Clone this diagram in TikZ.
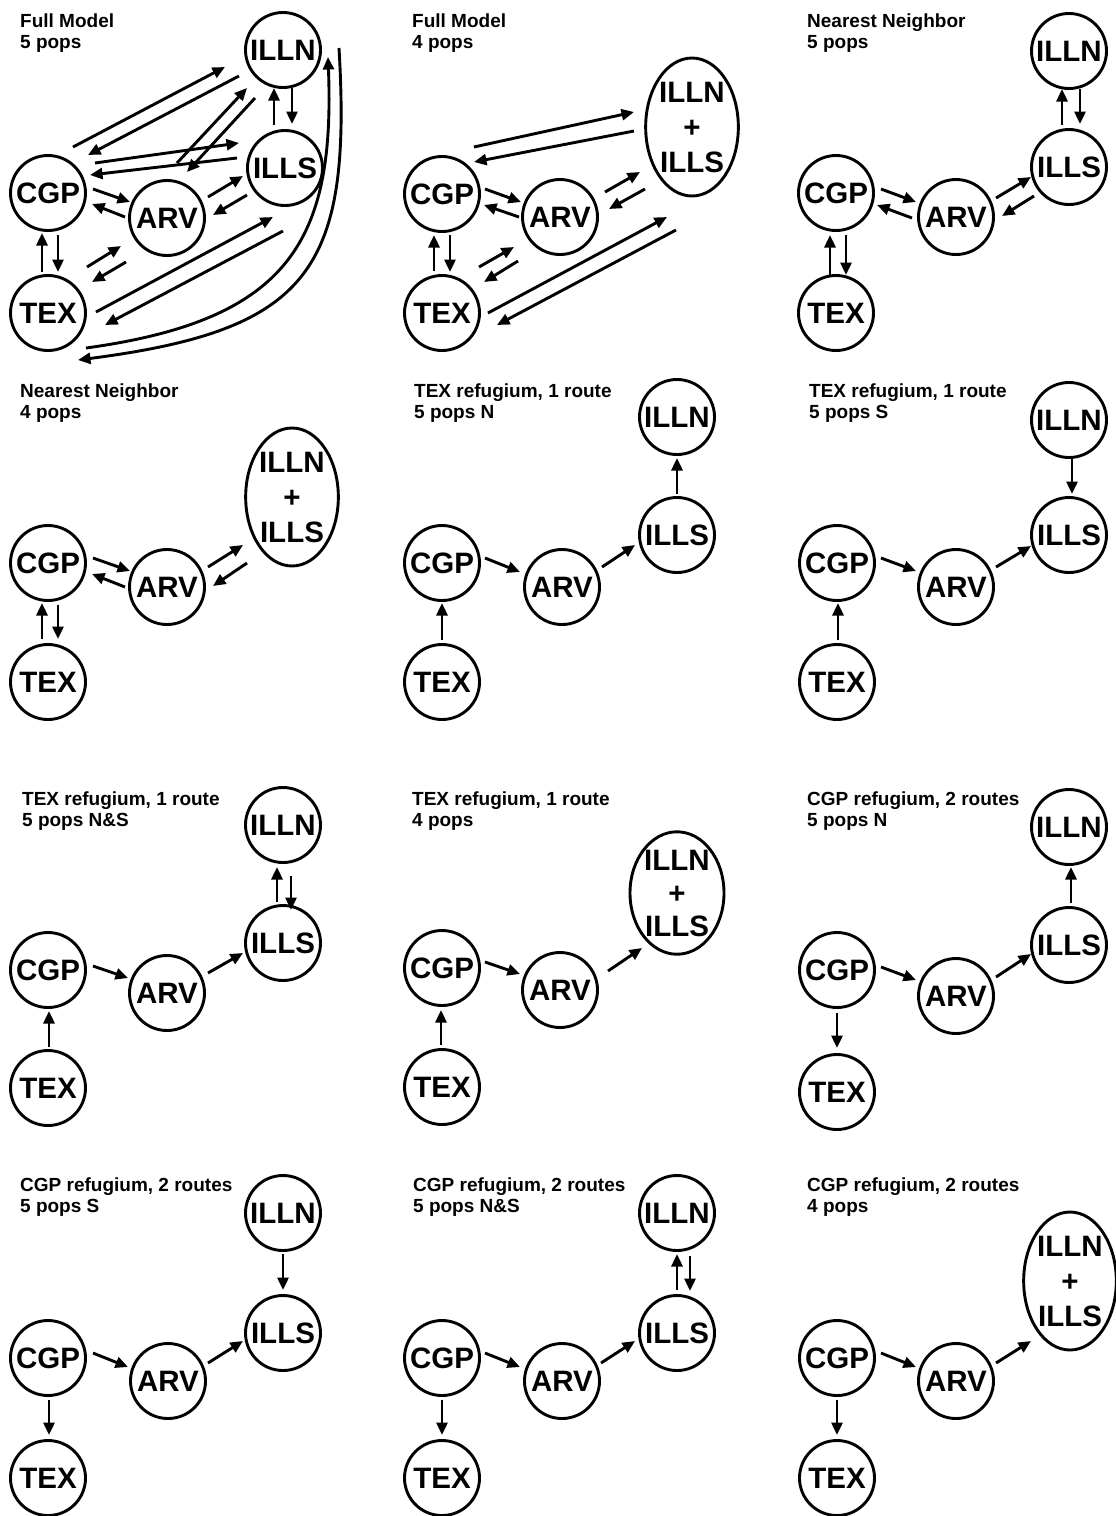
\documentclass[tikz,border=0pt]{standalone}
\usepackage{fontspec}
\setmainfont{Liberation Sans}
\usetikzlibrary{arrows.meta,calc,shapes.geometric}
\newcommand\cn[4]{\draw[arr] ($(#1)+(#2)$) -- ($(#3)+(#4)$);}
\begin{document}
\begin{tikzpicture}[x=1pt,y=-1pt,
  pop/.style={circle,draw,line width=2.9pt,minimum size=75pt,inner sep=0pt,font=\fontsize{29.5}{35}\selectfont\bfseries},
  ell/.style={ellipse,draw,line width=2.9pt,minimum width=92pt,minimum height=138pt,inner sep=0pt,align=center,font=\fontsize{29.5}{35}\selectfont\bfseries},
  ellsmall/.style={ell,minimum width=94pt,minimum height=118pt,font=\fontsize{29.5}{33}\selectfont\bfseries},
  ttl/.style={anchor=north west,inner sep=0pt,align=left,font=\fontsize{19}{21}\selectfont\bfseries},
  arr/.style={line width=2.9pt,-{Triangle[length=12.5pt,width=11pt]}}]
\useasboundingbox (0,0) rectangle (1116,1516);

% ---------- Panel 1 ----------
\node[ttl] (aT) at (20,14) {Full Model\\5 pops};
\node[pop] (aILLN) at (283,50) {ILLN};
\node[pop] (aILLS) at (285,168) {ILLS};
\node[pop] (aCGP) at (48,193) {CGP};
\node[pop] (aARV) at (167,218) {ARV};
\node[pop] (aTEX) at (48,313) {TEX};
\cn{aCGP}{25,-46}{aILLN}{-58,17}
\cn{aILLN}{-44,26}{aCGP}{40,-38}
\cn{aCGP}{47,-30}{aILLS}{-46,-25}
\cn{aILLS}{-48,-10}{aCGP}{42,-18}
\cn{aARV}{10,-55}{aILLN}{-36,38}
\cn{aILLN}{-28,48}{aARV}{20,-46}
\cn{aILLS}{-11,-43}{aILLN}{-9,38}
\cn{aILLN}{9,38}{aILLS}{7,-44}
\cn{aCGP}{45,-4}{aARV}{-37,-16}
\cn{aARV}{-42,-1}{aCGP}{44,11}
\cn{aARV}{41,-21}{aILLS}{-42,8}
\cn{aILLS}{-38,27}{aARV}{46,-3}
\cn{aTEX}{-6,-41}{aCGP}{-6,40}
\cn{aCGP}{10,42}{aTEX}{10,-41}
\cn{aTEX}{39,-46}{aARV}{-46,28}
\cn{aARV}{-41,44}{aTEX}{44,-31}
\cn{aTEX}{48,-1}{aILLS}{-12,49}
\cn{aILLS}{-2,63}{aTEX}{57,12}
\draw[arr] ($(aTEX)+(38,35)$) .. controls ($(aTEX)+(242,7)$) and ($(aILLN)+(52,190)$) .. ($(aILLN)+(45,7)$);
\draw[arr] ($(aILLN)+(56,-2)$) .. controls ($(aILLN)+(69,220)$) and ($(aTEX)+(262,17)$) .. ($(aTEX)+(30,47)$);

% ---------- Panel 2 ----------
\node[ttl] (bT) at (412,14) {Full Model\\4 pops};
\node[ell] (bELL) at (692,127) {ILLN\\+\\ILLS};
\node[pop] (bCGP) at (442,194) {CGP};
\node[pop] (bARV) at (560,217) {ARV};
\node[pop] (bTEX) at (442,313) {TEX};
\cn{bCGP}{32,-47}{bELL}{-58,-15}
\cn{bELL}{-58,4}{bCGP}{32,-32}
\cn{bCGP}{43,-5}{bARV}{-39,-15}
\cn{bARV}{-41,0}{bCGP}{42,11}
\cn{bARV}{45,-25}{bELL}{-52,45}
\cn{bELL}{-47,62}{bARV}{49,-8}
\cn{bTEX}{-8,-42}{bCGP}{-8,41}
\cn{bCGP}{8,41}{bTEX}{8,-41}
\cn{bTEX}{37,-46}{bARV}{-46,30}
\cn{bARV}{-42,44}{bTEX}{42,-31}
\cn{bTEX}{46,0}{bELL}{-25,90}
\cn{bELL}{-16,103}{bTEX}{55,12}

% ---------- Panel 3 ----------
\node[ttl] (cT) at (807,14) {Nearest Neighbor\\5 pops};
\node[pop] (cILLN) at (1069,51) {ILLN};
\node[pop] (cILLS) at (1069,167) {ILLS};
\node[pop] (cCGP) at (836,193) {CGP};
\node[pop] (cARV) at (956,217) {ARV};
\node[pop] (cTEX) at (836,313) {TEX};
\cn{cILLS}{-7,-42}{cILLN}{-7,38}
\cn{cILLN}{11,38}{cILLS}{11,-43}
\cn{cCGP}{45,-4}{cARV}{-40,-15}
\cn{cARV}{-44,1}{cCGP}{41,12}
\cn{cARV}{40,-19}{cILLS}{-38,10}
\cn{cILLS}{-35,29}{cARV}{46,-1}
\cn{cTEX}{-6,-38}{cCGP}{-6,42}
\cn{cCGP}{10,42}{cTEX}{10,-38}

% ---------- Panel 4 ----------
\node[ttl] (dT) at (20,384) {Nearest Neighbor\\4 pops};
\node[ell] (dELL) at (292,497) {ILLN\\+\\ILLS};
\node[pop] (dCGP) at (48,563) {CGP};
\node[pop] (dARV) at (167,587) {ARV};
\node[pop] (dTEX) at (48,682) {TEX};
\cn{dCGP}{45,-5}{dARV}{-37,-16}
\cn{dARV}{-42,0}{dCGP}{44,11}
\cn{dARV}{41,-20}{dELL}{-49,48}
\cn{dELL}{-45,66}{dARV}{46,-1}
\cn{dTEX}{-6,-43}{dCGP}{-6,40}
\cn{dCGP}{10,42}{dTEX}{10,-43}

% ---------- Panel 5 ----------
\node[ttl] (eT) at (414,384) {TEX refugium, 1 route\\5 pops N};
\node[pop] (eILLN) at (677,417) {ILLN};
\node[pop] (eILLS) at (677,535) {ILLS};
\node[pop] (eCGP) at (442,563) {CGP};
\node[pop] (eARV) at (562,587) {ARV};
\node[pop] (eTEX) at (442,682) {TEX};
\cn{eTEX}{0,-42}{eCGP}{0,40}
\cn{eCGP}{43,-5}{eARV}{-42,-15}
\cn{eARV}{40,-20}{eILLS}{-42,10}
\cn{eILLS}{0,-41}{eILLN}{0,41}

% ---------- Panel 6 ----------
\node[ttl] (fT) at (809,384) {TEX refugium, 1 route\\5 pops S};
\node[pop] (fILLN) at (1069,420) {ILLN};
\node[pop] (fILLS) at (1069,535) {ILLS};
\node[pop] (fCGP) at (837,563) {CGP};
\node[pop] (fARV) at (956,587) {ARV};
\node[pop] (fTEX) at (837,682) {TEX};
\cn{fILLN}{3,39}{fILLS}{3,-41}
\cn{fCGP}{44,-5}{fARV}{-40,-16}
\cn{fARV}{40,-20}{fILLS}{-38,11}
\cn{fTEX}{1,-42}{fCGP}{1,40}

% ---------- Panel 7 ----------
\node[ttl] (gT) at (22,792) {TEX refugium, 1 route\\5 pops N\&S};
\node[pop] (gILLN) at (283,825) {ILLN};
\node[pop] (gILLS) at (283,943) {ILLS};
\node[pop] (gCGP) at (48,970) {CGP};
\node[pop] (gARV) at (167,993) {ARV};
\node[pop] (gTEX) at (48,1088) {TEX};
\cn{gILLS}{-6,-41}{gILLN}{-6,42}
\cn{gILLN}{8,51}{gILLS}{8,-33}
\cn{gCGP}{45,-4}{gARV}{-39,-15}
\cn{gARV}{41,-20}{gILLS}{-40,10}
\cn{gTEX}{1,-41}{gCGP}{1,41}

% ---------- Panel 8 ----------
\node[ttl] (hT) at (412,792) {TEX refugium, 1 route\\4 pops};
\node[ellsmall] (hELL) at (677,893) {ILLN\\+\\ILLS};
\node[pop] (hCGP) at (442,968) {CGP};
\node[pop] (hARV) at (560,990) {ARV};
\node[pop] (hTEX) at (442,1087) {TEX};
\cn{hCGP}{43,-6}{hARV}{-40,-16}
\cn{hARV}{48,-19}{hELL}{-35,55}
\cn{hTEX}{-1,-42}{hCGP}{-1,42}

% ---------- Panel 9 ----------
\node[ttl] (iT) at (807,792) {CGP refugium, 2 routes\\5 pops N};
\node[pop] (iILLN) at (1069,827) {ILLN};
\node[pop] (iILLS) at (1069,945) {ILLS};
\node[pop] (iCGP) at (837,970) {CGP};
\node[pop] (iARV) at (956,996) {ARV};
\node[pop] (iTEX) at (837,1092) {TEX};
\cn{iILLS}{2,-42}{iILLN}{2,40}
\cn{iCGP}{44,-3}{iARV}{-40,-16}
\cn{iARV}{40,-19}{iILLS}{-38,9}
\cn{iCGP}{0,43}{iTEX}{0,-44}

% ---------- Panel 10 ----------
\node[ttl] (jT) at (20,1178) {CGP refugium, 2 routes\\5 pops S};
\node[pop] (jILLN) at (283,1213) {ILLN};
\node[pop] (jILLS) at (283,1333) {ILLS};
\node[pop] (jCGP) at (48,1358) {CGP};
\node[pop] (jARV) at (168,1381) {ARV};
\node[pop] (jTEX) at (48,1478) {TEX};
\cn{jILLN}{0,41}{jILLS}{0,-43}
\cn{jCGP}{45,-5}{jARV}{-40,-14}
\cn{jARV}{40,-18}{jILLS}{-40,8}
\cn{jCGP}{1,42}{jTEX}{1,-43}

% ---------- Panel 11 ----------
\node[ttl] (kT) at (413,1178) {CGP refugium, 2 routes\\5 pops N\&S};
\node[pop] (kILLN) at (677,1213) {ILLN};
\node[pop] (kILLS) at (677,1333) {ILLS};
\node[pop] (kCGP) at (442,1358) {CGP};
\node[pop] (kARV) at (562,1381) {ARV};
\node[pop] (kTEX) at (442,1478) {TEX};
\cn{kILLS}{0,-43}{kILLN}{0,41}
\cn{kILLN}{13,43}{kILLS}{13,-42}
\cn{kCGP}{43,-5}{kARV}{-42,-14}
\cn{kARV}{39,-18}{kILLS}{-42,8}
\cn{kCGP}{0,42}{kTEX}{0,-43}

% ---------- Panel 12 ----------
\node[ttl] (lT) at (807,1178) {CGP refugium, 2 routes\\4 pops};
\node[ell] (lELL) at (1070,1281) {ILLN\\+\\ILLS};
\node[pop] (lCGP) at (837,1358) {CGP};
\node[pop] (lARV) at (956,1381) {ARV};
\node[pop] (lTEX) at (837,1478) {TEX};
\cn{lCGP}{44,-5}{lARV}{-40,-14}
\cn{lARV}{40,-18}{lELL}{-39,60}
\cn{lCGP}{0,42}{lTEX}{0,-43}
\end{tikzpicture}
\end{document}
